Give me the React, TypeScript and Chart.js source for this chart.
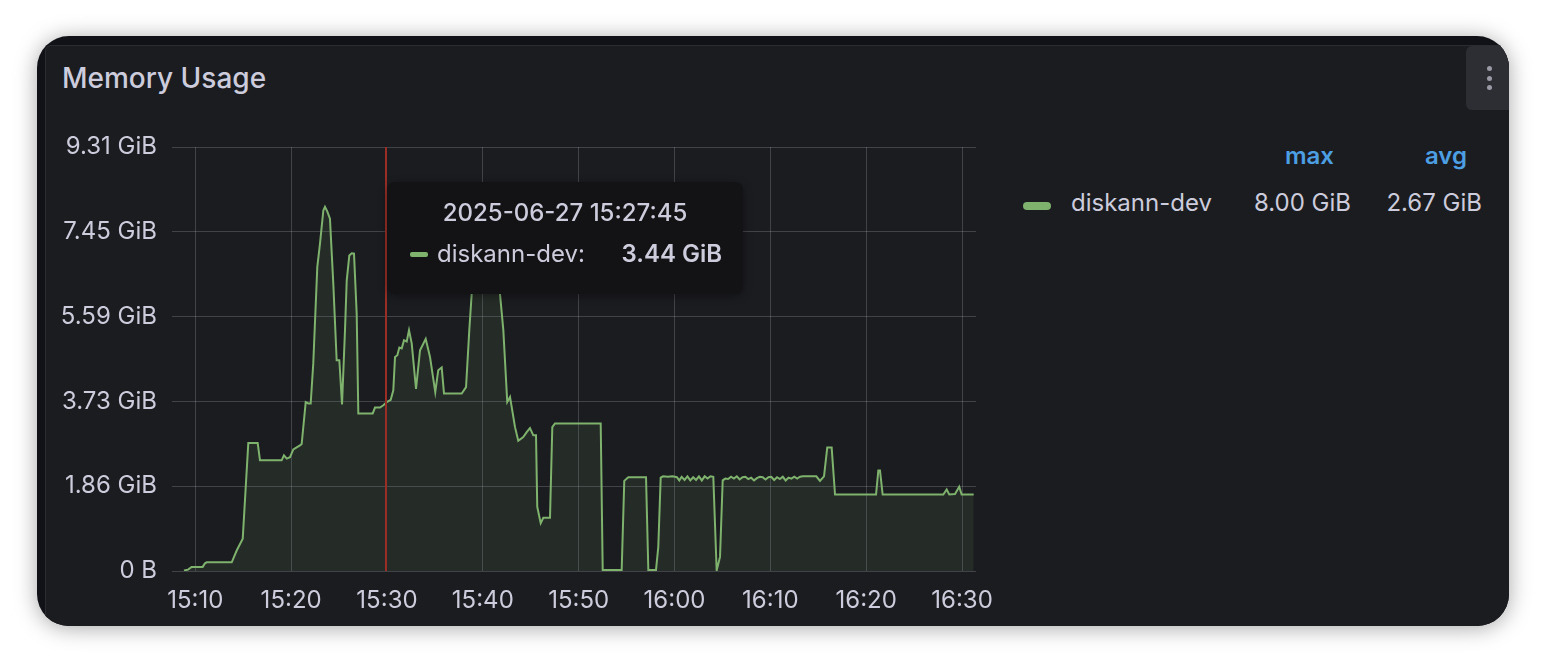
import React, { useEffect, useRef } from "react";
import { Chart, registerables } from "chart.js";

Chart.register(...registerables);

// ---------- data ----------
const seriesName = "diskann-dev";

// minutes after 15:00
const timeMinutes: number[] = [
  8.82, 9.24, 9.62, 10.77, 11.01, 11.19, 13.8, 14.32, 14.95, 15.53, 16.51, 16.75,
  19.01, 19.25, 19.54, 19.88, 20.23, 20.92, 21.1, 21.52, 21.79, 22.04, 22.31, 22.73,
  23.01, 23.36, 23.53, 23.77, 24.05, 24.4, 24.75, 25.03, 25.31, 25.62, 25.8, 26.07,
  26.32, 26.56, 26.84, 27.01, 28.51, 28.75, 29.27, 29.62, 29.98, 30.39, 30.66, 30.84,
  31.08, 31.29, 31.54, 31.78, 32.06, 32.3, 32.58, 33.03, 33.45, 34.04, 34.49, 35.04,
  35.35, 35.71, 35.95, 37.8, 38.25, 38.59, 38.84, 39.29, 39.91, 40.54, 41.27, 41.79,
  42.14, 42.55, 42.84, 43.36, 43.7, 44.22, 44.58, 44.92, 45.27, 45.55, 45.68, 46.04,
  46.31, 47.01, 47.25, 47.53, 52.3, 52.51, 54.49, 54.76, 55.18, 57.03, 57.27, 58.07,
  58.31, 58.56, 58.8, 59.3, 59.8, 60.25, 60.5, 60.75, 61.05, 61.35, 61.65, 61.95,
  62.25, 62.55, 62.85, 63.15, 63.45, 63.75, 64.05, 64.4, 64.75, 65.03, 65.3, 65.6,
  65.9, 66.2, 66.5, 66.8, 67.1, 67.4, 67.7, 68.0, 68.3, 68.6, 68.9, 69.2,
  69.5, 69.8, 70.1, 70.4, 70.7, 71.0, 71.3, 71.6, 71.9, 72.2, 72.5, 72.8,
  73.1, 73.4, 74.8, 75.18, 75.6, 75.94, 76.4, 76.75, 81.03, 81.27, 81.44, 81.72,
  88.05, 88.4, 88.67, 89.27, 89.71, 89.96, 91.22,
];

const memoryGiB: number[] = [
  0.01, 0.03, 0.09, 0.09, 0.17, 0.19, 0.19, 0.45, 0.71, 2.81, 2.81, 2.43,
  2.43, 2.54, 2.47, 2.5, 2.67, 2.76, 2.79, 3.71, 3.68, 3.68, 4.56, 6.68,
  7.19, 7.92, 8.0, 7.9, 7.74, 6.31, 4.63, 4.63, 3.66, 5.29, 6.38, 6.93,
  6.98, 6.97, 5.65, 3.46, 3.46, 3.59, 3.59, 3.64, 3.71, 3.76, 3.97, 4.7,
  4.74, 4.91, 4.89, 5.07, 5.04, 5.29, 5.0, 4.0, 4.85, 5.1, 4.7, 3.93,
  4.41, 4.47, 3.9, 3.9, 4.04, 5.29, 6.09, 6.9, 7.25, 7.3, 6.9, 6.09,
  5.29, 3.71, 3.82, 3.16, 2.86, 2.94, 3.05, 3.14, 2.98, 2.98, 1.41, 1.05,
  1.17, 1.17, 3.16, 3.24, 3.24, 0.02, 0.02, 1.98, 2.06, 2.06, 0.02, 0.02,
  0.53, 2.05, 2.08, 2.07, 2.08, 2.06, 1.99, 2.07, 2.0, 2.08, 1.99, 2.06,
  2.0, 2.08, 1.99, 2.08, 2.03, 2.08, 2.07, 0.01, 0.31, 1.99, 2.03, 2.02,
  2.07, 2.03, 2.08, 2.01, 2.06, 2.07, 2.02, 2.05, 1.99, 2.04, 2.07, 2.06,
  2.01, 2.06, 2.07, 2.0, 2.06, 2.02, 2.07, 1.99, 2.05, 2.03, 2.07, 2.03,
  2.07, 2.08, 2.08, 1.98, 2.08, 2.71, 2.71, 1.68, 1.68, 2.21, 2.21, 1.68,
  1.68, 1.79, 1.68, 1.69, 1.85, 1.68, 1.68,
];

const xTickMinutes = [10, 20, 30, 40, 50, 60, 70, 80, 90];
const xTickLabels = ["15:10", "15:20", "15:30", "15:40", "15:50", "16:00", "16:10", "16:20", "16:30"];
const yTickGiB = [0, 1.8626, 3.7253, 5.5879, 7.4506, 9.3132];
const yTickLabels = ["0 B", "1.86 GiB", "3.73 GiB", "5.59 GiB", "7.45 GiB", "9.31 GiB"];

const legendHeaders = ["max", "avg"];
const legendValues = ["8.00 GiB", "2.67 GiB"];
const tooltipTime = "2025-06-27 15:27:45";
const tooltipValue = "3.44 GiB";
const annotationMinute = 29.9;

// ---------- styles ----------
const TEXT = "#ccccdc";
const GRID = "rgba(204,204,220,0.22)";
const GREEN = "#7EB26D";
const FX = 37;
const FY = 36;

const annotationPlugin = {
  id: "annotationLine",
  afterDatasetsDraw(chart: any) {
    const { ctx, chartArea, scales } = chart;
    const x = Math.round(scales.x.getPixelForValue(annotationMinute));
    ctx.save();
    ctx.strokeStyle = "#9a2e26";
    ctx.lineWidth = 2;
    ctx.beginPath();
    ctx.moveTo(x, chartArea.top);
    ctx.lineTo(x, chartArea.bottom);
    ctx.stroke();
    ctx.restore();
  },
};

export default function App() {
  const canvasRef = useRef<HTMLCanvasElement>(null);

  useEffect(() => {
    if (!canvasRef.current) return;
    const chart = new Chart(canvasRef.current, {
      type: "line",
      data: {
        datasets: [
          {
            label: seriesName,
            data: timeMinutes.map((t, i) => ({ x: t, y: memoryGiB[i] })),
            borderColor: GREEN,
            backgroundColor: "rgba(126,178,109,0.1)",
            fill: "origin",
            borderWidth: 2,
            pointRadius: 0,
            tension: 0,
          },
        ],
      },
      options: {
        animation: false,
        responsive: false,
        layout: { padding: { left: 0, top: 37, right: 24, bottom: 0 } },
        plugins: { legend: { display: false }, tooltip: { enabled: false } },
        scales: {
          x: {
            type: "linear",
            min: 7.569,
            max: 91.46,
            border: { display: false },
            grid: { color: GRID, drawTicks: false, lineWidth: 1 },
            ticks: {
              color: TEXT,
              font: { family: "Inter", size: 24 },
              padding: 15,
              maxRotation: 0,
              autoSkip: false,
              callback: (v: any) => xTickLabels[xTickMinutes.indexOf(Number(v))] ?? "",
            },
            afterBuildTicks: (axis: any) => {
              axis.ticks = xTickMinutes.map((v) => ({ value: v }));
            },
            afterFit: (scale: any) => {
              scale.height = 59;
              scale.paddingLeft = 0;
              scale.paddingRight = 0;
            },
          },
          y: {
            type: "linear",
            min: 0,
            max: 9.3132,
            border: { display: false },
            grid: { color: GRID, drawTicks: false, lineWidth: 1 },
            ticks: {
              color: TEXT,
              font: { family: "Inter", size: 24 },
              padding: 15,
              callback: (v: any) => {
                const i = yTickGiB.findIndex((t) => Math.abs(t - Number(v)) < 1e-3);
                return i >= 0 ? yTickLabels[i] : "";
              },
            },
            afterBuildTicks: (axis: any) => {
              axis.ticks = yTickGiB.map((v) => ({ value: v }));
            },
            afterFit: (scale: any) => {
              scale.width = 132;
              scale.paddingTop = 0;
              scale.paddingBottom = 0;
            },
          },
        },
      },
      plugins: [annotationPlugin],
    } as any);
    return () => chart.destroy();
  }, []);

  const txt = (extra: React.CSSProperties): React.CSSProperties => ({
    position: "absolute",
    fontSize: 24,
    lineHeight: "24px",
    color: TEXT,
    whiteSpace: "nowrap",
    ...extra,
  });

  return (
    <div
      style={{
        position: "absolute",
        left: 0,
        top: 0,
        width: 1546,
        height: 662,
        background: "#ffffff",
        overflow: "hidden",
        fontFamily: "Inter, 'Noto Sans', sans-serif",
      }}
    >
      <div
        style={{
          position: "absolute",
          left: FX,
          top: FY,
          width: 1472,
          height: 590,
          borderRadius: 32,
          overflow: "hidden",
          background: "#111217",
          boxShadow: "0 2px 22px rgba(0,0,0,0.35)",
        }}
      >
        <div
          style={{
            position: "absolute",
            left: 8,
            top: 9,
            width: 1500,
            height: 620,
            background: "#1b1c20",
            border: "1px solid #2b2c31",
            borderRadius: 6,
          }}
        />
        <div style={txt({ left: 62 - FX, top: 64 - FY, fontSize: 28, lineHeight: "28px", fontWeight: 500 })}>
          Memory Usage
        </div>

        <canvas
          ref={canvasRef}
          width={960}
          height={520}
          style={{ position: "absolute", left: 40 - FX, top: 110 - FY, width: 960, height: 520 }}
        />

        {/* legend */}
        <div style={txt({ right: FX + 1472 - 1334, top: 144 - FY, fontWeight: 600, color: "#4d9fe3" })}>
          {legendHeaders[0]}
        </div>
        <div style={txt({ right: FX + 1472 - 1467, top: 144 - FY, fontWeight: 600, color: "#4d9fe3" })}>
          {legendHeaders[1]}
        </div>
        <div
          style={{
            position: "absolute",
            left: 1023 - FX,
            top: 202 - FY,
            width: 28,
            height: 8,
            borderRadius: 4,
            background: GREEN,
          }}
        />
        <div style={txt({ left: 1071 - FX, top: 191 - FY })}>{seriesName}</div>
        <div style={txt({ right: FX + 1472 - 1351, top: 191 - FY })}>{legendValues[0]}</div>
        <div style={txt({ right: FX + 1472 - 1482, top: 191 - FY })}>{legendValues[1]}</div>

        {/* tooltip */}
        <div
          style={{
            position: "absolute",
            left: 387 - FX,
            top: 182 - FY,
            width: 356,
            height: 112,
            borderRadius: 8,
            background: "#131315",
            boxShadow: "0 2px 8px rgba(0,0,0,0.4)",
          }}
        >
          <div style={txt({ left: 0, width: 356, textAlign: "center", top: 19, fontWeight: 500 })}>
            {tooltipTime}
          </div>
          <div
            style={{
              position: "absolute",
              left: 23,
              top: 70,
              width: 18,
              height: 5,
              borderRadius: 2,
              background: GREEN,
            }}
          />
          <div style={txt({ left: 50, top: 60 })}>{seriesName}:</div>
          <div style={txt({ right: 356 - (722 - 387), top: 60, fontWeight: 600 })}>{tooltipValue}</div>
        </div>

        {/* panel menu */}
        <div
          style={{
            position: "absolute",
            left: 1466 - FX,
            top: 46 - FY,
            width: 60,
            height: 64,
            borderRadius: 6,
            background: "#2d2e34",
          }}
        >
          {[22, 32, 41].map((y) => (
            <div
              key={y}
              style={{
                position: "absolute",
                left: 21,
                top: y - 2.5,
                width: 5,
                height: 5,
                borderRadius: 3,
                background: "#9a9aa6",
              }}
            />
          ))}
        </div>
      </div>
    </div>
  );
}
